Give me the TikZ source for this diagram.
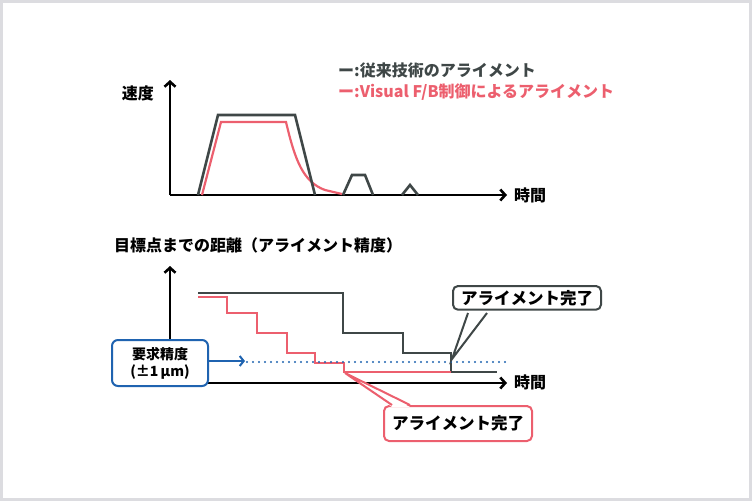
\documentclass[tikz,border=0pt]{standalone}
\usepackage{fontspec}
\setmainfont{Noto Sans CJK JP}
\usetikzlibrary{arrows.meta,calc}
\definecolor{cgrey}{HTML}{3F4747}
\definecolor{cred}{HTML}{EC5F6E}
\definecolor{cblue}{HTML}{1F63B0}
\definecolor{cframe}{HTML}{DCDCE0}
\begin{document}
\begin{tikzpicture}[x=1pt,y=-1pt,
  lbl/.style={font=\bfseries\fontsize{16}{18}\selectfont, inner sep=0pt},
  axisline/.style={line width=2.6pt,-{Straight Barb[length=5pt,width=11pt,line width=2.6pt]}},
  gcurve/.style={cgrey,line width=2.6pt,line join=miter},
  rcurve/.style={cred,line width=2.2pt},
  callbox/.style={draw,line width=2pt,rounded corners=5pt,fill=white,font=\bfseries\fontsize{16.5}{18}\selectfont,inner xsep=8pt,inner ysep=4pt}]
\useasboundingbox (0,0) rectangle (752,501);
\draw[cframe,line width=3pt] (1.5,1.5) rectangle (750.5,499.5);
% ---------- top chart
\coordinate (o1) at (170,195);
\coordinate (ytop1) at (170,80);
\coordinate (xend1) at (507,195);
\draw[axisline] (o1) -- (ytop1);
\draw[axisline] (o1) -- (xend1);
\node[lbl,anchor=east] (v) at (154,93) {速度};
\node[lbl,anchor=west] (t1) at (514,195) {時間};
\node[lbl,anchor=west,text=cgrey] (lg1) at (338,70) {ー:従来技術のアライメント};
\node[lbl,anchor=west,text=cred] (lg2) at (338,92) {ー:Visual F/B制御によるアライメント};
\draw[rcurve] (202,195) -- (221,122) -- (286,122) .. controls (295,160) and (303,182) .. (325,190) -- (342,194);
\draw[gcurve] (198,195) -- (218,115) -- (295,115) -- (315,195);
\draw[gcurve] (343,195) -- (352,175) -- (365,175) -- (373,195);
\draw[gcurve] (402,195) -- (410,185) -- (418,195);
% ---------- bottom chart
\node[lbl,anchor=west] (title2) at (114,245) {目標点までの距離（アライメント精度）};
\coordinate (o2) at (170,383);
\coordinate (ytop2) at (170,266);
\coordinate (xend2) at (507,383);
\draw[axisline] (o2) -- (ytop2);
\draw[axisline] (o2) -- (xend2);
\node[lbl,anchor=west] (t2) at (514,382) {時間};
\draw[gcurve] (198,293) -- (343,293) -- (343,333) -- (403,333) -- (403,353) -- (451,353) -- (451,372) -- (497,372);
\draw[rcurve] (198,297) -- (227,297) -- (227,313) -- (257,313) -- (257,333) -- (287,333) -- (287,353) -- (315,353) -- (315,363) -- (344,363) -- (344,372) -- (451,372);
\draw[cblue,line width=2.4pt,dotted,line cap=round,dash pattern=on 0pt off 6pt] (247,362) -- (505,362);
\node[draw=cblue,line width=2pt,rounded corners=6pt,fill=white,align=center,
  font=\bfseries\fontsize{14}{17}\selectfont,minimum width=96pt,minimum height=46pt,inner sep=2pt] (req) at (160,363) {要求精度\\(±1\,µm)};
\coordinate (bluetip) at (245,361);
\draw[cblue,line width=2pt,-{Straight Barb[length=4pt,width=10pt,line width=2pt]}] (req.east |- bluetip) -- (bluetip);
% callouts
\node[callbox,draw=cgrey,anchor=north west] (c1) at (452,285) {アライメント完了};
\coordinate (g1) at (468,313); \coordinate (g2) at (487,313); \coordinate (gtip) at (452,359);
\fill[white] ($(g1)+(0,-2)$) -- (gtip) -- ($(g2)+(0,-2)$) -- cycle;
\draw[cgrey,line width=2pt,line join=miter] (g1) -- (gtip) -- (g2);
\node[callbox,draw=cred,anchor=north west,minimum height=35pt] (c2) at (383,405) {アライメント完了};
\coordinate (r1) at (392,405); \coordinate (r2) at (410,405); \coordinate (rtip) at (345,373);
\fill[white] ($(r1)+(0,2)$) -- (rtip) -- ($(r2)+(0,2)$) -- cycle;
\draw[cred,line width=2pt,line join=miter] (r1) -- (rtip) -- (r2);
\end{tikzpicture}
\end{document}
